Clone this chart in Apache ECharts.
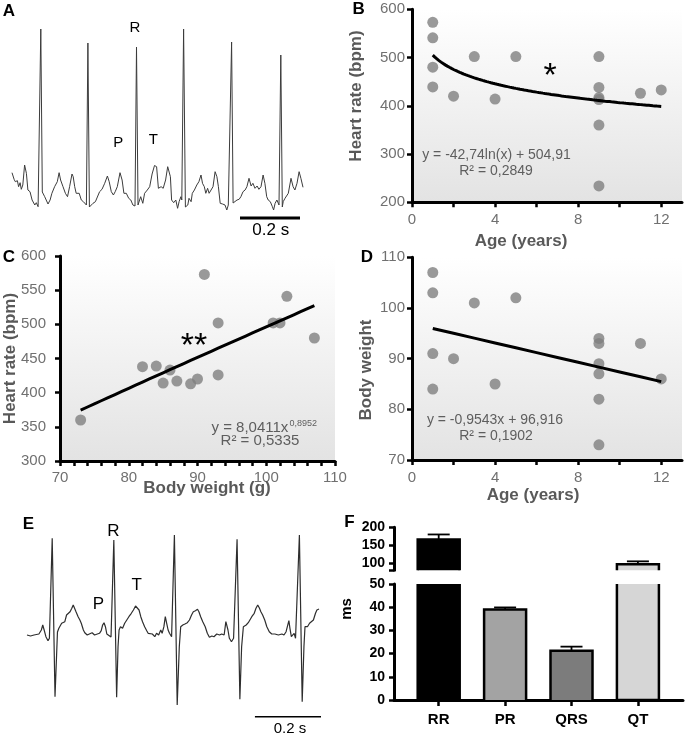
<!DOCTYPE html>
<html><head><meta charset="utf-8">
<script src="https://cdn.jsdelivr.net/npm/echarts@6/dist/echarts.min.js"></script>
<style>html,body{margin:0;padding:0;background:#fff}#c{width:685px;height:736px}</style>
</head><body><div id="c"></div>
<script>
// ---------- DATA ----------
// ECG trace A: [time ms, amplitude µV]
const ecgA = [[0,223],[7,157],[11,133],[18,143],[22,83],[27,123],[31,57],[36,100],[42,300],[48,217],[53,50],[60,33],[67,-50],[71,-33],[76,-100],[81,-77],[87,-117],[91,-110],[96,1660],[101,30],[109,-17],[114,-50],[120,-90],[127,-50],[133,17],[142,83],[151,133],[157,223],[162,150],[170,83],[178,17],[185,-17],[192,83],[200,210],[204,183],[209,83],[214,17],[220,0],[224,17],[231,-50],[238,-67],[244,-83],[248,-100],[253,1520],[258,-120],[270,-83],[278,-67],[284,-50],[292,33],[300,57],[309,117],[318,190],[324,133],[331,33],[338,0],[344,33],[351,83],[360,223],[367,150],[373,17],[381,17],[389,-33],[396,-50],[403,-100],[410,-110],[415,1480],[420,-100],[429,-17],[436,-83],[442,17],[451,50],[459,83],[467,210],[475,295],[482,283],[488,67],[497,83],[504,67],[512,150],[519,283],[523,300],[528,183],[532,-50],[539,-77],[546,-50],[552,-133],[557,-67],[563,-17],[566,-50],[572,1660],[578,-120],[586,-100],[590,-33],[597,-67],[601,17],[608,50],[616,100],[623,133],[630,200],[635,117],[641,83],[646,17],[652,67],[657,17],[663,0],[670,83],[677,233],[683,183],[688,83],[694,-83],[702,-90],[710,-100],[716,-150],[721,-100],[726,-110],[732,1530],[737,-80],[743,-100],[750,-50],[757,-43],[763,-17],[770,33],[777,50],[783,83],[790,167],[797,90],[803,117],[810,67],[817,90],[823,57],[830,83],[837,200],[843,117],[849,-17],[854,-50],[861,-67],[868,-117],[872,-150],[877,-83],[883,-50],[890,-100],[896,1400],[901,-120],[904,-67],[910,-33],[916,-50],[921,17],[930,167],[937,83],[943,50],[950,117],[957,233],[963,167],[970,77]];
// ECG trace E: [time ms, amplitude µV]
const ecgE = [[0,10],[10,0],[20,10],[34,20],[41,60],[45,110],[49,60],[54,-7],[60,-47],[64,-23],[72,977],[80,-607],[87,40],[91,77],[96,60],[99,127],[104,110],[108,143],[113,210],[117,193],[123,243],[128,277],[132,310],[136,300],[140,243],[146,193],[151,160],[155,127],[161,60],[165,33],[172,10],[178,20],[186,33],[193,10],[201,20],[207,27],[212,53],[216,110],[220,133],[224,93],[228,20],[233,10],[240,-10],[248,960],[256,-613],[260,-107],[263,60],[267,93],[273,77],[279,127],[285,160],[291,193],[298,227],[304,260],[310,300],[315,310],[320,260],[325,193],[330,143],[336,93],[342,53],[346,27],[351,43],[358,20],[365,-7],[370,27],[376,10],[382,60],[386,27],[391,93],[395,193],[399,127],[403,60],[407,27],[413,-7],[421,1010],[429,-690],[435,-107],[439,93],[445,110],[451,120],[458,133],[464,160],[470,210],[475,243],[481,253],[487,267],[491,243],[496,193],[502,143],[509,93],[515,27],[521,-13],[528,0],[534,-7],[542,20],[550,10],[556,20],[563,10],[568,143],[570,160],[574,60],[578,-23],[584,-57],[590,-23],[594,-30],[600,967],[608,-633],[613,-107],[618,93],[626,110],[632,133],[637,143],[642,193],[649,227],[654,277],[659,310],[664,277],[668,243],[673,210],[679,160],[685,93],[692,43],[699,20],[708,20],[718,10],[728,20],[734,10],[740,43],[744,60],[748,153],[751,77],[755,-7],[759,-23],[763,27],[767,-23],[772,-10],[778,1010],[786,-657],[791,-107],[794,93],[801,93],[807,127],[812,133],[818,160],[824,227],[828,260],[832,267],[834,270]];
const scaleBarMs = 200;          // 0.2 s scale bars
const scaleBarAStart = 760, scaleBarALevel = -230;
const scaleBarEStart = 651, scaleBarELevel = -807;

// Animals: age (years), body weight (g), heart rate (bpm)
const ages        = [1,1,1,1,2,3,4,5,9,9,9,9,9,9,11,12];
const bodyWeights = [107,103,91,84,90,101,85,102,93,82,87,89,73,94,93,86];
const heartRates  = [480,541,573,439,420,502,414,502,502,438,417,413,360,234,426,433];

// Fits shown on the panels
const fitB_a = -42.74, fitB_b = 504.91;   // y = a ln(x) + b
const fitC_k = 8.0411, fitC_p = 0.8952;   // y = k x^p
const fitD_m = -0.9543, fitD_c = 96.916;  // y = m x + c

// Tick values
const ageTicks = [0,2,4,6,8,10,12];
const ageTickLabels = [0,4,8,12];
const weightTicks = [70,72,74,76,78,80,82,84,86,88,90,92,94,96,98,100,102,104,106,108,110];
const weightTickLabels = [70,80,90,100,110];

// Panel F: ECG intervals (ms), mean and SEM
const fCategories = ['RR','PR','QRS','QT'];
const fMeans = [166, 39, 21.2, 97];
const fSEM   = [14, 0.9, 1.8, 8];
const fUpperTicks = [80,100,150,200];
const fUpperTickLabels = [100,150,200];
const fLowerMax = 50, fUpperMin = 80, fUpperMax = 200;

// ---------- STYLE ----------
const FONT = '"Liberation Sans", Arial, sans-serif';
const fColors = ['#000000','#a3a3a3','#7c7c7c','#d6d6d6'];
const axisGray = '#707070', titleGray = '#595959';
const grad = {type:'linear',x:0,y:0,x2:0,y2:1,colorStops:[{offset:0,color:'#ffffff'},{offset:1,color:'#e3e3e3'}]};

const chart = echarts.init(document.getElementById('c'), null, {renderer:'canvas'});

function pairs(xs, ys){ return xs.map((x,i)=>[x, ys[i]]); }
function fitLine(x0, x1, step, f){ const out=[]; for(let x=x0; x<=x1+1e-9; x+=step) out.push([x, f(x)]); return out; }

const fitBData = fitLine(1, 12, 0.1, x => fitB_a*Math.log(x)+fitB_b);
const fitCData = fitLine(Math.min(...bodyWeights.filter((w,i)=>heartRates[i]>=300)), Math.max(...bodyWeights), 1, x => fitC_k*Math.pow(x, fitC_p));
const fitDData = fitLine(1, 12, 1, x => fitD_m*x+fitD_c);

function scatterAxisX(gi, min, max, ticks, labels, margin){
  return {gridIndex:gi, type:'value', min, max,
    axisLine:{show:true,onZero:false,lineStyle:{color:'#000',width:3}},
    axisTick:{show:true,customValues:ticks,length:5,lineStyle:{color:'#000',width:2.5}},
    axisLabel:{customValues:labels,margin,color:axisGray,fontSize:15,fontFamily:FONT},
    splitLine:{show:false}};
}
function scatterAxisY(gi, min, max, interval, margin){
  return {gridIndex:gi, type:'value', min, max, interval,
    axisLine:{show:true,onZero:false,lineStyle:{color:'#000',width:3}},
    axisTick:{show:true,length:5,lineStyle:{color:'#000',width:2.5}},
    axisLabel:{margin,color:axisGray,fontSize:15,fontFamily:FONT},
    splitLine:{show:false}};
}
const fPos = fCategories.map((c,i)=>i+1);
const fXMin = 0.327, fXMax = 4.679;

function barRender(isUpper){
  return function(params, api){
    const x = api.value(0), v = api.value(1), ci = api.value(2);
    const lo = isUpper ? fUpperMin : 0;
    const hi = isUpper ? fUpperMax : fLowerMax;
    const clipped = v > hi;
    const top = api.coord([x, Math.min(v, hi)]);
    const base = api.coord([x, lo]);
    const w = 42, x0 = top[0]-w/2, x1 = top[0]+w/2;
    const pts = (clipped && !isUpper) ? [[x0,top[1]],[x0,base[1]],[x1,base[1]],[x1,top[1]]]
                                     : [[x0,base[1]],[x0,top[1]],[x1,top[1]],[x1,base[1]]];
    return {type:'group', children:[
      {type:'rect', shape:{x:x0,y:top[1],width:w,height:base[1]-top[1]}, style:{fill:fColors[ci]}},
      {type:'polyline', shape:{points:pts}, style:{stroke:'#000',lineWidth:2.5,fill:null}}
    ]};
  };
}
function errRender(params, api){
  const x = api.value(0), m = api.value(1), e = api.value(2);
  const p0 = api.coord([x, m]), p1 = api.coord([x, m+e]);
  const hw = 11;
  return {type:'group', children:[
    {type:'line', shape:{x1:p0[0],y1:p0[1],x2:p1[0],y2:p1[1]}, style:{stroke:'#000',lineWidth:1.8}},
    {type:'line', shape:{x1:p1[0]-hw,y1:p1[1],x2:p1[0]+hw,y2:p1[1]}, style:{stroke:'#000',lineWidth:1.8}}
  ]};
}
const fUpperBars = fMeans.map((m,i)=>[i+1,m,i]).filter(d=>d[1]>fLowerMax);
const fLowerBars = fMeans.map((m,i)=>[i+1,m,i]);
const fUpperErr = fMeans.map((m,i)=>[i+1,m,fSEM[i]]).filter(d=>d[1]>fLowerMax);
const fLowerErr = fMeans.map((m,i)=>[i+1,m,fSEM[i]]).filter(d=>d[1]<=fLowerMax);

function T(x, y, text, font, color, rot){
  return {type:'text', x, y, rotation: rot||0, z:100,
    style:{text, font, fill:color||'#000', align:'center', verticalAlign:'middle'}};
}
const bold = s => 'bold '+s+'px '+FONT;
const reg = s => s+'px '+FONT;

const option = {
  animation:false,
  backgroundColor:'#ffffff',
  grid:[
    {left:12, top:25, width:291, height:185},
    {left:412, top:9.3, width:270, height:193, show:true, backgroundColor:grad, borderWidth:0},
    {left:60, top:256, width:275, height:205, show:true, backgroundColor:grad, borderWidth:0},
    {left:412, top:257.3, width:270, height:202.7, show:true, backgroundColor:grad, borderWidth:0},
    {left:27, top:531, width:292, height:180},
    {left:394, top:527.3, width:289, height:43},
    {left:394, top:584, width:289, height:116}
  ],
  xAxis:[
    {gridIndex:0, type:'value', min:0, max:970, show:false},
    scatterAxisX(1, 0, 13, ageTicks, ageTickLabels, 10),
    scatterAxisX(2, 70, 110, weightTicks, weightTickLabels, 9),
    scatterAxisX(3, 0, 13, ageTicks, ageTickLabels, 10),
    {gridIndex:4, type:'value', min:0, max:834, show:false},
    {gridIndex:5, type:'value', min:fXMin, max:fXMax, show:false},
    {gridIndex:6, type:'value', min:fXMin, max:fXMax,
      axisLine:{show:true,onZero:false,lineStyle:{color:'#000',width:3}},
      axisTick:{show:true,customValues:fPos,length:6,lineStyle:{color:'#000',width:2.5}},
      axisLabel:{customValues:fPos,formatter:v=>fCategories[Math.round(v)-1],margin:12,color:'#000',fontWeight:'bold',fontSize:15,fontFamily:FONT},
      splitLine:{show:false}}
  ],
  yAxis:[
    {gridIndex:0, type:'value', min:-150, max:1700, show:false},
    scatterAxisY(1, 200, 600, 100, 7),
    scatterAxisY(2, 300, 600, 50, 14),
    scatterAxisY(3, 70, 110, 10, 7),
    {gridIndex:4, type:'value', min:-750, max:1050, show:false},
    {gridIndex:5, type:'value', min:fUpperMin, max:fUpperMax,
      axisLine:{show:true,onZero:false,lineStyle:{color:'#000',width:3}},
      axisTick:{show:true,customValues:fUpperTicks,length:5,lineStyle:{color:'#000',width:2.5}},
      axisLabel:{customValues:fUpperTickLabels,margin:9,color:'#000',fontWeight:'bold',fontSize:14,fontFamily:FONT},
      splitLine:{show:false}},
    {gridIndex:6, type:'value', min:0, max:fLowerMax, interval:10,
      axisLine:{show:true,onZero:false,lineStyle:{color:'#000',width:3}},
      axisTick:{show:true,length:5,lineStyle:{color:'#000',width:2.5}},
      axisLabel:{margin:9,color:'#000',fontWeight:'bold',fontSize:14,fontFamily:FONT},
      splitLine:{show:false}}
  ],
  series:[
    {type:'line', xAxisIndex:0, yAxisIndex:0, data:ecgA, showSymbol:false, symbol:'none', lineStyle:{color:'#3c3c3c',width:1}},
    {type:'line', xAxisIndex:0, yAxisIndex:0, data:[[scaleBarAStart,scaleBarALevel],[scaleBarAStart+scaleBarMs,scaleBarALevel]], clip:false, symbol:'none', lineStyle:{color:'#000',width:3}},
    {type:'scatter', xAxisIndex:1, yAxisIndex:1, data:pairs(ages, heartRates), symbolSize:11, itemStyle:{color:'#808080'}},
    {type:'line', xAxisIndex:1, yAxisIndex:1, data:fitBData, symbol:'none', lineStyle:{color:'#000',width:3}, z:3},
    {type:'scatter', xAxisIndex:2, yAxisIndex:2, data:pairs(bodyWeights, heartRates), symbolSize:11, itemStyle:{color:'#808080'}},
    {type:'line', xAxisIndex:2, yAxisIndex:2, data:fitCData, symbol:'none', lineStyle:{color:'#000',width:3}, z:3},
    {type:'scatter', xAxisIndex:3, yAxisIndex:3, data:pairs(ages, bodyWeights), symbolSize:11, itemStyle:{color:'#808080'}},
    {type:'line', xAxisIndex:3, yAxisIndex:3, data:fitDData, symbol:'none', lineStyle:{color:'#000',width:3}, z:3},
    {type:'line', xAxisIndex:4, yAxisIndex:4, data:ecgE, showSymbol:false, symbol:'none', lineStyle:{color:'#2e2e2e',width:1.2}},
    {type:'line', xAxisIndex:4, yAxisIndex:4, data:[[scaleBarEStart,scaleBarELevel],[scaleBarEStart+scaleBarMs,scaleBarELevel]], clip:false, symbol:'none', lineStyle:{color:'#000',width:1.6}},
    {type:'custom', xAxisIndex:5, yAxisIndex:5, data:fUpperErr, renderItem:errRender, z:2},
    {type:'custom', xAxisIndex:5, yAxisIndex:5, data:fUpperBars, renderItem:barRender(true), z:3},
    {type:'custom', xAxisIndex:6, yAxisIndex:6, data:fLowerErr, renderItem:errRender, z:2},
    {type:'custom', xAxisIndex:6, yAxisIndex:6, data:fLowerBars, renderItem:barRender(false), z:3}
  ],
  graphic:[
    T(9,11,'A',bold(17)), T(358.7,9.5,'B',bold(17)), T(9,257,'C',bold(17)),
    T(367,257.5,'D',bold(17)), T(28.3,524.5,'E',bold(17)), T(349.5,522,'F',bold(17)),
    T(135,28.3,'R',reg(15)), T(118.3,143.3,'P',reg(15)), T(153.3,139.8,'T',reg(15)), T(270.7,230,'0.2 s',reg(17)),
    T(113.3,531,'R',reg(17)), T(98.3,604,'P',reg(17)), T(136.7,585,'T',reg(17)), T(290,729.3,'0.2 s',reg(15)),
    T(356.7,96,'Heart rate (bpm)',bold(17),titleGray,Math.PI/2), T(521,241.7,'Age (years)',bold(17),titleGray),
    T(10,358.5,'Heart rate (bpm)',bold(17),titleGray,Math.PI/2), T(207,488,'Body weight (g)',bold(17),titleGray),
    T(366,370,'Body weight',bold(17),titleGray,Math.PI/2), T(533,495,'Age (years)',bold(17),titleGray),
    T(347,609,'ms',bold(15),'#000',Math.PI/2),
    T(496.5,155,'y = -42,74ln(x) + 504,91',reg(14),'#5e5e5e'), T(496,171,'R² = 0,2849',reg(14),'#5e5e5e'),
    {type:'text', x:211.5, y:428.3, z:100, style:{text:'y = 8,0411x', font:reg(15), fill:'#5e5e5e', align:'left', verticalAlign:'middle'}},
    {type:'text', x:289.5, y:423.5, z:100, style:{text:'0,8952', font:reg(9), fill:'#5e5e5e', align:'left', verticalAlign:'middle'}},
    T(260,441,'R² = 0,5335',reg(15),'#5e5e5e'),
    T(495,420,'y = -0,9543x + 96,916',reg(14),'#5e5e5e'), T(496,436,'R² = 0,1902',reg(14),'#5e5e5e'),
    T(550,77,'*',reg(34),'#000'), T(194,347,'**',reg(34),'#000')
  ]
};
chart.setOption(option);
</script></body></html>
